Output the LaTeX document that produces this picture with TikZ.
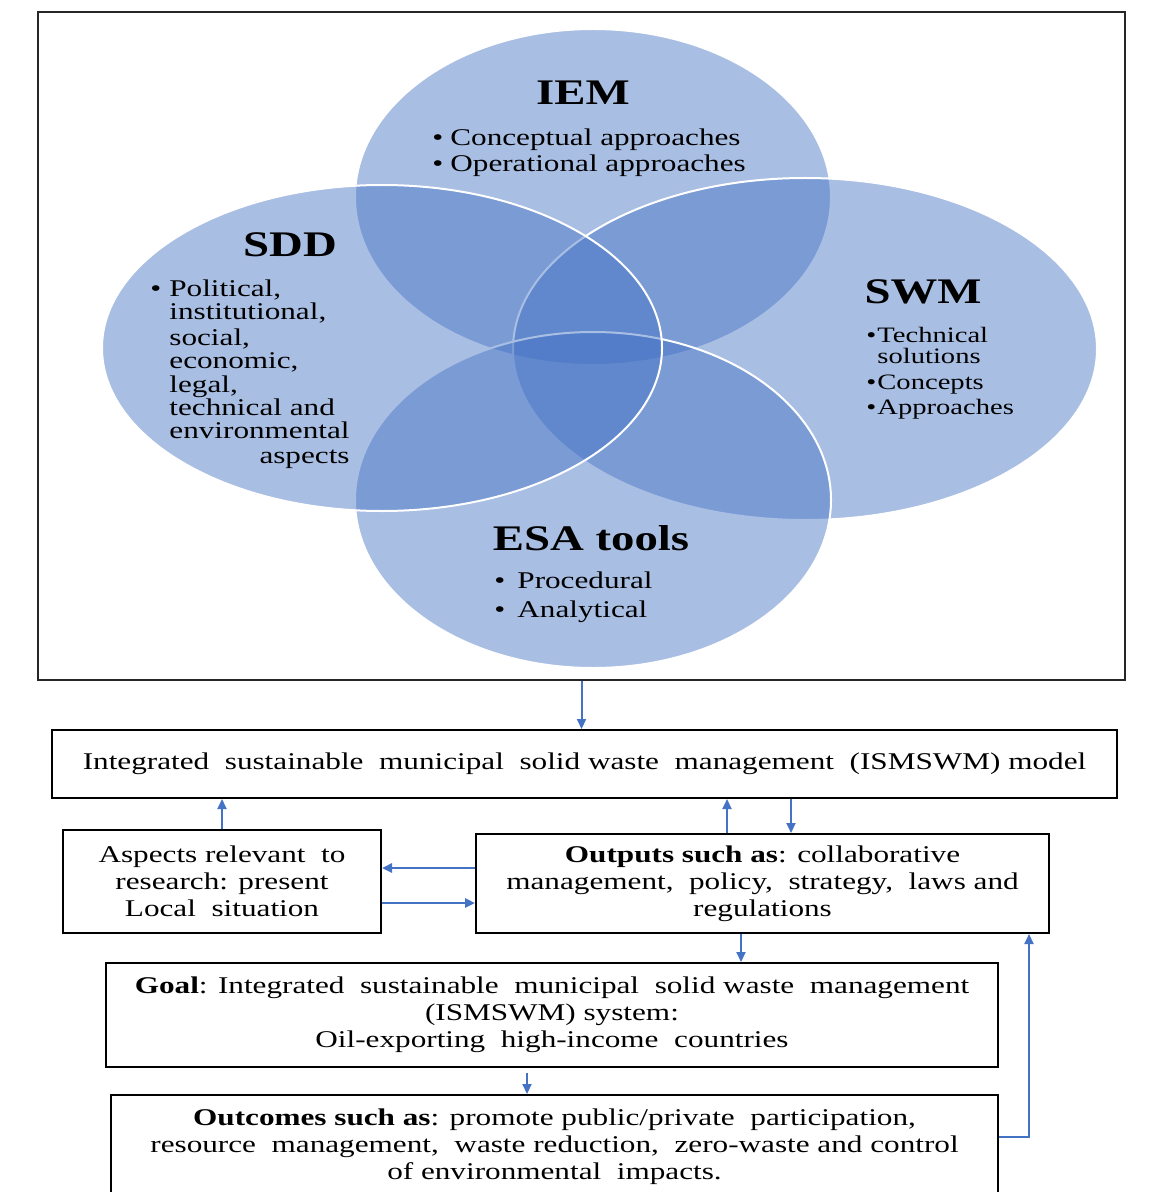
\documentclass[tikz,border=0pt]{standalone}
\usepackage{fontspec}
\setmainfont{Liberation Serif}[FakeStretch=1.3]
\usetikzlibrary{arrows.meta}
\definecolor{vblue}{HTML}{4472C4}
\begin{document}
\begin{tikzpicture}[x=0.5pt,y=-0.5pt,
  venn/.style={fill=vblue,fill opacity=0.46,draw=white,draw opacity=1,line width=1pt},
  hdr/.style={font=\bfseries\fontsize{18}{20}\selectfont,inner sep=0pt},
  btxt/.style={font=\fontsize{12}{13.5}\selectfont,inner sep=0pt,anchor=base west},
  stxt/.style={font=\fontsize{11}{12}\selectfont,inner sep=0pt,anchor=base west},
  box/.style={draw=black,line width=1pt,align=center,inner sep=0pt,
    font=\fontsize{12}{13.5}\selectfont},
  arr/.style={draw=vblue,line width=1pt,-{Triangle[length=5pt,width=4.5pt]}},
  arrt/.style={arr,line width=1.4pt}]
\useasboundingbox (0,0) rectangle (1171,1192);
\clip (0,0) rectangle (1171,1192);
\fill[white] (0,0) rectangle (1171,1192);
% frame
\node[draw=black!85,line width=1pt,minimum width=543.5pt,minimum height=334pt,inner sep=0pt] (frame) at (581.5,346) {};
% Venn ellipses
\path[venn] (593,197) ellipse [x radius=119pt, y radius=84pt];
\path[venn] (805,349) ellipse [x radius=146pt, y radius=85.5pt];
\path[venn] (593,500) ellipse [x radius=119pt, y radius=84pt];
\path[venn] (382,348) ellipse [x radius=140pt, y radius=81.5pt];
% headers
\node[hdr] (iem) at (583,93) {IEM};
\node[hdr] (sdd) at (290,245) {SDD};
\node[hdr] (swm) at (923,292) {SWM};
\node[hdr] (esa) at (591,538) {ESA tools};
% IEM bullets
\node[btxt] (i1) at (432,146) {\makebox[9pt][l]{\textbullet}Conceptual approaches};
\node[btxt] (i2) at (432,172) {\makebox[9pt][l]{\textbullet}Operational approaches};
% SDD bullets
\node[btxt] (s1) at (150,297) {\makebox[9.5pt][l]{\textbullet}Political,};
\node[btxt] (s2) at (169,320) {institutional,};
\node[btxt] (s3) at (169,345) {social,};
\node[btxt] (s4) at (169,368) {economic,};
\node[btxt] (s5) at (169,392) {legal,};
\node[btxt] (s6) at (169,415) {technical and};
\node[btxt] (s7) at (169,438) {environmental};
\node[btxt,anchor=base east] (s8) at (350,463) {aspects};
% SWM bullets
\node[stxt] (w1) at (866,343) {\makebox[5.5pt][l]{\textbullet}Technical};
\node[stxt] (w2) at (877,363) {solutions};
\node[stxt] (w3) at (866,389) {\makebox[5.5pt][l]{\textbullet}Concepts};
\node[stxt] (w4) at (866,414) {\makebox[5.5pt][l]{\textbullet}Approaches};
% ESA bullets
\node[btxt] (e1) at (494,588) {\makebox[11.5pt][l]{\textbullet}Procedural};
\node[btxt] (e2) at (494,617) {\makebox[11.5pt][l]{\textbullet}Analytical};
% lower boxes
\node[box,minimum width=532.5pt,minimum height=34pt] (model) at (584.5,764)
  {Integrated\ \ sustainable\ \ municipal\ \ solid waste\ \ management\ \ (ISMSWM) model};
\node[box,minimum width=159pt,minimum height=51.5pt] (aspects) at (222,881.5)
  {Aspects relevant\ \ to\\research: present\\Local\ \ situation};
\node[box,minimum width=286.5pt,minimum height=49.5pt] (outputs) at (762.5,883.5)
  {\textbf{Outputs such as}: collaborative\\management,\ \ policy,\ \ strategy,\ \ laws and\\regulations};
\node[box,minimum width=446pt,minimum height=52pt] (goal) at (552,1015)
  {\textbf{Goal}: Integrated\ \ sustainable\ \ municipal\ \ solid waste\ \ management\\(ISMSWM) system:\\Oil-exporting\ \ high-income\ \ countries};
\node[box,minimum width=443.5pt,minimum height=60pt,text depth=0pt] (outcomes) at (554.5,1155)
  {};
\node[font=\fontsize{12}{13.5}\selectfont,align=center,inner sep=0pt,anchor=north] (outtxt) at (554.5,1108)
  {\textbf{Outcomes such as}: promote public/private\ \ participation,\\resource\ \ management,\ \ waste reduction,\ \ zero-waste and control\\of environmental\ \ impacts.};
% connectors
\draw[arr] (frame.south) -- (frame.south |- model.north);
\draw[arr] (aspects.north) -- (aspects.north |- model.south);
\coordinate (u1) at (727,0);
\coordinate (d1) at (791,0);
\draw[arr] (u1 |- outputs.north) -- (u1 |- model.south);
\draw[arr] (d1 |- model.south) -- (d1 |- outputs.north);
\coordinate (h1) at (0,868);
\coordinate (h2) at (0,903);
\draw[arrt] (h1 -| outputs.west) -- (h1 -| aspects.east);
\draw[arrt] (h2 -| aspects.east) -- (h2 -| outputs.west);
\coordinate (d2) at (741,0);
\draw[arr] (d2 |- outputs.south) -- (d2 |- goal.north);
\coordinate (d3) at (527,1073);
\draw[arr] (d3) -- (d3 |- outcomes.north);
\coordinate (r1) at (1029,1137);
\draw[arr] (r1 -| outcomes.east) -- (r1) -- (r1 |- outputs.south);
\end{tikzpicture}
\end{document}
